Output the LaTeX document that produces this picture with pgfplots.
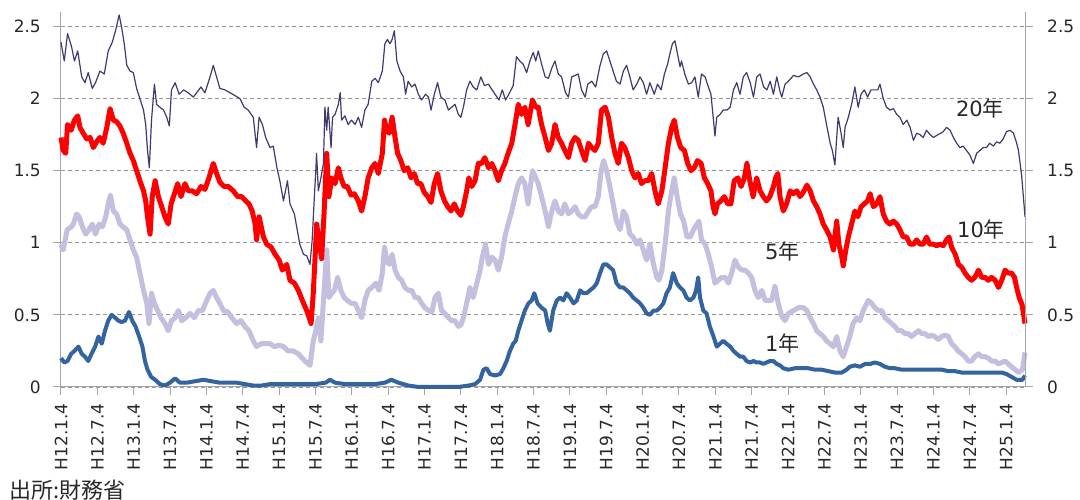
\documentclass[border=0pt]{standalone}
\usepackage{pgfplots}
\pgfplotsset{compat=1.18}
\usepackage{fontspec}
\setmainfont{DejaVu Sans}
\newfontfamily\cjk{Noto Sans CJK JP}
\definecolor{c20}{RGB}{64,58,112}
\definecolor{c10}{RGB}{255,0,0}
\definecolor{c5}{RGB}{198,190,222}
\definecolor{c1}{RGB}{52,100,160}
\definecolor{axgray}{RGB}{166,166,166}
\definecolor{gridgray}{RGB}{150,150,150}
\definecolor{txt}{RGB}{40,40,40}
\begin{document}
\begin{tikzpicture}[x=1pt,y=1pt]
\path[use as bounding box, fill=white] (0,0) rectangle (1080,500);
\pgfplotsset{
  common/.style={
    at={(61pt,113pt)}, anchor=south west, scale only axis,
    width=964pt, height=375pt,
    xmin=0, xmax=26.52, ymin=0, ymax=2.6,
    ytick={0,0.5,1,1.5,2,2.5},
    yticklabels={0,0.5,1,1.5,2,2.5},
    axis line style={-, draw=axgray, line width=1pt},
    tick align=outside, major tick length=8pt,
    tick style={draw=axgray, line width=1pt},
    ticklabel style={font=\fontsize{17}{17}\selectfont, text=txt},
  }
}
\begin{axis}[common,
  axis x line*=bottom, axis y line*=left,
  ymajorgrids, grid style={dashed, gridgray, line width=0.8pt, dash pattern=on 4pt off 3pt},
  xtick={0,1,...,26},
  xticklabels={H12.1.4,H12.7.4,H13.1.4,H13.7.4,H14.1.4,H14.7.4,H15.1.4,H15.7.4,H16.1.4,H16.7.4,H17.1.4,H17.7.4,H18.1.4,H18.7.4,H19.1.4,H19.7.4,H20.1.4,H20.7.4,H21.1.4,H21.7.4,H22.1.4,H22.7.4,H23.1.4,H23.7.4,H24.1.4,H24.7.4,H25.1.4},
  xticklabel style={rotate=90, anchor=east, inner sep=0pt},
  yticklabel style={anchor=east, inner sep=0pt},
  xticklabel shift=8pt, yticklabel shift=12pt,
  clip=false,
]
% 1 year
\addplot[c1, line width=4pt, line join=round] coordinates {
(0,0.20)(0.09,0.17)(0.18,0.18)(0.28,0.23)(0.37,0.25)(0.48,0.28)(0.57,0.23)(0.66,0.21)(0.75,0.18)(0.84,0.23)(0.94,0.28)(1.03,0.35)(1.12,0.30)(1.21,0.39)(1.30,0.46)(1.39,0.50)(1.49,0.48)(1.58,0.46)(1.67,0.45)(1.76,0.46)(1.87,0.52)(1.96,0.46)(2.05,0.42)(2.15,0.35)(2.24,0.28)(2.31,0.18)(2.38,0.12)(2.48,0.07)(2.59,0.05)(2.72,0.02)(2.86,0.01)(3.00,0.03)(3.14,0.06)(3.27,0.03)(3.46,0.03)(3.69,0.04)(3.92,0.05)(4.14,0.04)(4.37,0.03)(4.60,0.03)(4.83,0.03)(5.06,0.02)(5.29,0.01)(5.52,0.01)(5.75,0.02)(5.98,0.02)(6.21,0.02)(6.44,0.02)(6.71,0.02)(7.00,0.02)(7.28,0.03)(7.40,0.05)(7.54,0.03)(7.81,0.02)(8.09,0.02)(8.36,0.02)(8.64,0.02)(8.91,0.03)(9.09,0.05)(9.28,0.03)(9.56,0.01)(9.83,0.00)(10.11,0.00)(10.38,0.00)(10.66,0.00)(10.93,0.00)(11.21,0.01)(11.39,0.02)(11.53,0.05)(11.62,0.12)(11.71,0.13)(11.80,0.09)(11.94,0.08)(12.08,0.09)(12.17,0.13)(12.26,0.18)(12.35,0.25)(12.44,0.30)(12.51,0.32)(12.58,0.39)(12.67,0.46)(12.76,0.53)(12.86,0.58)(12.95,0.60)(13.02,0.65)(13.11,0.58)(13.22,0.55)(13.32,0.53)(13.39,0.44)(13.45,0.39)(13.54,0.53)(13.64,0.60)(13.73,0.62)(13.82,0.60)(13.91,0.65)(14.00,0.62)(14.10,0.58)(14.19,0.60)(14.28,0.67)(14.37,0.65)(14.46,0.65)(14.55,0.67)(14.65,0.69)(14.74,0.72)(14.83,0.79)(14.92,0.85)(15.01,0.85)(15.10,0.83)(15.19,0.81)(15.28,0.72)(15.38,0.69)(15.47,0.69)(15.56,0.67)(15.65,0.65)(15.74,0.62)(15.84,0.60)(15.93,0.58)(16.02,0.55)(16.11,0.51)(16.20,0.50)(16.30,0.53)(16.39,0.53)(16.48,0.55)(16.57,0.58)(16.66,0.65)(16.75,0.69)(16.84,0.79)(16.94,0.72)(17.03,0.69)(17.12,0.67)(17.21,0.62)(17.30,0.60)(17.40,0.62)(17.47,0.67)(17.53,0.76)(17.58,0.62)(17.67,0.53)(17.76,0.51)(17.85,0.42)(17.95,0.35)(18.04,0.28)(18.13,0.30)(18.22,0.32)(18.31,0.30)(18.41,0.28)(18.50,0.25)(18.59,0.23)(18.68,0.21)(18.77,0.21)(18.86,0.18)(18.96,0.17)(19.05,0.18)(19.14,0.17)(19.23,0.17)(19.32,0.16)(19.41,0.17)(19.50,0.18)(19.60,0.18)(19.69,0.16)(19.78,0.15)(19.87,0.13)(20.01,0.12)(20.19,0.13)(20.38,0.13)(20.56,0.13)(20.74,0.12)(20.92,0.12)(21.11,0.11)(21.29,0.10)(21.48,0.10)(21.61,0.12)(21.70,0.14)(21.84,0.15)(21.98,0.14)(22.12,0.16)(22.26,0.16)(22.39,0.17)(22.53,0.16)(22.67,0.14)(22.81,0.13)(22.94,0.13)(23.13,0.12)(23.31,0.12)(23.49,0.12)(23.68,0.12)(23.86,0.12)(24.04,0.12)(24.23,0.12)(24.41,0.11)(24.59,0.11)(24.78,0.10)(24.96,0.10)(25.14,0.10)(25.33,0.10)(25.51,0.10)(25.70,0.10)(25.88,0.10)(26.01,0.09)(26.15,0.07)(26.29,0.05)(26.45,0.05)(26.52,0.08)
};
% 5 year
\addplot[c5, line width=5pt, line join=round] coordinates {
(0,0.99)(0.06,0.95)(0.17,1.09)(0.28,1.11)(0.34,1.13)(0.43,1.20)(0.50,1.18)(0.59,1.11)(0.68,1.06)(0.77,1.09)(0.86,1.13)(0.95,1.06)(1.05,1.13)(1.14,1.11)(1.23,1.18)(1.30,1.27)(1.36,1.33)(1.44,1.22)(1.53,1.20)(1.62,1.13)(1.71,1.11)(1.81,1.09)(1.90,1.02)(1.99,0.95)(2.08,0.90)(2.17,0.79)(2.27,0.67)(2.36,0.58)(2.42,0.44)(2.49,0.65)(2.57,0.58)(2.66,0.53)(2.75,0.48)(2.86,0.44)(2.95,0.39)(3.04,0.46)(3.14,0.48)(3.23,0.53)(3.32,0.46)(3.43,0.48)(3.55,0.51)(3.67,0.48)(3.78,0.53)(3.89,0.53)(4.01,0.60)(4.10,0.65)(4.19,0.67)(4.28,0.62)(4.37,0.58)(4.47,0.53)(4.59,0.52)(4.70,0.48)(4.83,0.44)(4.95,0.46)(5.06,0.42)(5.17,0.39)(5.29,0.32)(5.38,0.28)(5.50,0.30)(5.61,0.30)(5.75,0.30)(5.87,0.28)(6.00,0.29)(6.12,0.28)(6.25,0.25)(6.39,0.25)(6.53,0.23)(6.71,0.18)(6.85,0.15)(6.94,0.32)(7.01,0.39)(7.08,0.48)(7.15,0.32)(7.22,0.60)(7.31,0.95)(7.37,0.62)(7.45,0.65)(7.52,0.67)(7.61,0.76)(7.70,0.67)(7.79,0.62)(7.88,0.60)(7.98,0.58)(8.09,0.58)(8.18,0.53)(8.27,0.48)(8.36,0.60)(8.45,0.67)(8.55,0.69)(8.66,0.72)(8.75,0.67)(8.84,0.79)(8.90,0.97)(8.96,0.88)(9.03,0.85)(9.11,0.92)(9.19,0.81)(9.28,0.76)(9.37,0.74)(9.46,0.69)(9.56,0.67)(9.65,0.67)(9.74,0.62)(9.83,0.62)(9.92,0.58)(10.01,0.55)(10.11,0.53)(10.20,0.52)(10.29,0.62)(10.38,0.65)(10.47,0.53)(10.56,0.51)(10.66,0.48)(10.75,0.46)(10.84,0.46)(10.93,0.42)(11.00,0.43)(11.07,0.48)(11.16,0.58)(11.25,0.69)(11.34,0.62)(11.44,0.72)(11.53,0.81)(11.59,0.90)(11.68,0.99)(11.76,0.85)(11.85,0.90)(11.94,0.88)(12.03,0.81)(12.12,0.90)(12.21,1.04)(12.30,1.13)(12.40,1.22)(12.49,1.32)(12.58,1.41)(12.67,1.45)(12.76,1.41)(12.85,1.27)(12.97,1.50)(13.06,1.45)(13.13,1.41)(13.22,1.32)(13.32,1.22)(13.41,1.11)(13.50,1.22)(13.59,1.29)(13.68,1.22)(13.77,1.20)(13.86,1.27)(13.96,1.20)(14.05,1.22)(14.14,1.25)(14.23,1.20)(14.32,1.18)(14.42,1.18)(14.51,1.22)(14.60,1.25)(14.69,1.25)(14.78,1.32)(14.86,1.50)(14.93,1.57)(15.01,1.50)(15.10,1.39)(15.19,1.27)(15.28,1.15)(15.38,1.09)(15.47,1.22)(15.56,1.18)(15.65,1.06)(15.74,1.04)(15.84,0.99)(15.93,1.02)(16.02,0.95)(16.11,0.88)(16.20,0.99)(16.30,0.85)(16.39,0.76)(16.45,0.74)(16.53,0.81)(16.62,0.99)(16.71,1.22)(16.80,1.36)(16.87,1.45)(16.95,1.32)(17.04,1.20)(17.13,1.15)(17.22,1.04)(17.31,1.04)(17.40,1.09)(17.50,1.13)(17.55,1.15)(17.62,1.02)(17.72,0.99)(17.81,0.92)(17.90,0.83)(17.99,0.72)(18.08,0.74)(18.18,0.76)(18.27,0.76)(18.36,0.72)(18.45,0.79)(18.54,0.88)(18.64,0.83)(18.73,0.81)(18.82,0.81)(18.91,0.79)(19.00,0.76)(19.09,0.67)(19.18,0.62)(19.28,0.67)(19.37,0.60)(19.46,0.60)(19.55,0.60)(19.64,0.70)(19.73,0.58)(19.83,0.49)(19.92,0.46)(20.01,0.51)(20.15,0.53)(20.29,0.55)(20.42,0.55)(20.52,0.53)(20.61,0.48)(20.70,0.44)(20.79,0.39)(20.88,0.37)(20.97,0.35)(21.06,0.32)(21.16,0.30)(21.25,0.28)(21.34,0.35)(21.43,0.25)(21.52,0.21)(21.61,0.28)(21.70,0.35)(21.79,0.44)(21.89,0.48)(21.98,0.46)(22.07,0.53)(22.21,0.60)(22.30,0.58)(22.39,0.55)(22.49,0.53)(22.58,0.53)(22.67,0.48)(22.76,0.46)(22.85,0.44)(22.94,0.42)(23.03,0.39)(23.13,0.39)(23.22,0.37)(23.31,0.37)(23.40,0.35)(23.49,0.37)(23.59,0.39)(23.68,0.37)(23.77,0.37)(23.86,0.35)(23.95,0.36)(24.04,0.35)(24.13,0.33)(24.23,0.35)(24.32,0.36)(24.41,0.35)(24.50,0.30)(24.59,0.28)(24.68,0.25)(24.78,0.23)(24.87,0.21)(24.96,0.18)(25.05,0.18)(25.14,0.21)(25.24,0.23)(25.33,0.21)(25.42,0.21)(25.51,0.20)(25.60,0.18)(25.70,0.18)(25.79,0.16)(25.88,0.17)(25.97,0.18)(26.06,0.16)(26.15,0.14)(26.25,0.12)(26.34,0.10)(26.45,0.12)(26.52,0.24)
};
% 10 year
\addplot[c10, line width=5pt, line join=round] coordinates {
(0,1.73)(0.06,1.64)(0.13,1.62)(0.18,1.82)(0.28,1.78)(0.37,1.85)(0.46,1.88)(0.52,1.80)(0.61,1.76)(0.71,1.72)(0.80,1.73)(0.89,1.66)(0.98,1.70)(1.07,1.73)(1.16,1.69)(1.26,1.80)(1.35,1.93)(1.44,1.85)(1.53,1.84)(1.62,1.81)(1.71,1.76)(1.81,1.69)(1.90,1.62)(1.99,1.57)(2.08,1.50)(2.17,1.43)(2.27,1.36)(2.33,1.29)(2.38,1.18)(2.45,1.06)(2.51,1.32)(2.59,1.43)(2.68,1.32)(2.77,1.25)(2.86,1.18)(2.95,1.13)(3.03,1.27)(3.12,1.34)(3.21,1.41)(3.30,1.32)(3.41,1.41)(3.50,1.36)(3.61,1.36)(3.73,1.34)(3.85,1.39)(3.96,1.37)(4.07,1.45)(4.19,1.55)(4.28,1.48)(4.37,1.42)(4.49,1.39)(4.60,1.39)(4.74,1.36)(4.86,1.32)(4.97,1.32)(5.08,1.29)(5.17,1.27)(5.26,1.22)(5.34,1.13)(5.38,1.02)(5.45,1.18)(5.57,1.04)(5.66,0.99)(5.78,0.97)(5.89,0.92)(6.00,0.88)(6.09,0.81)(6.21,0.85)(6.30,0.74)(6.42,0.72)(6.53,0.67)(6.64,0.60)(6.76,0.53)(6.88,0.44)(6.94,0.65)(7.00,0.95)(7.03,1.13)(7.10,1.02)(7.17,0.89)(7.24,1.22)(7.31,1.62)(7.37,1.32)(7.45,1.45)(7.54,1.41)(7.63,1.52)(7.70,1.45)(7.79,1.39)(7.88,1.39)(7.98,1.33)(8.07,1.34)(8.18,1.29)(8.27,1.22)(8.36,1.32)(8.45,1.45)(8.55,1.52)(8.64,1.55)(8.73,1.48)(8.84,1.62)(8.90,1.85)(8.96,1.78)(9.03,1.76)(9.11,1.87)(9.19,1.73)(9.26,1.62)(9.35,1.57)(9.44,1.50)(9.54,1.52)(9.63,1.45)(9.72,1.48)(9.81,1.41)(9.90,1.41)(9.99,1.35)(10.09,1.32)(10.18,1.28)(10.27,1.41)(10.36,1.48)(10.45,1.36)(10.55,1.29)(10.64,1.25)(10.73,1.22)(10.82,1.27)(10.91,1.22)(11.00,1.19)(11.07,1.25)(11.16,1.36)(11.22,1.45)(11.30,1.39)(11.39,1.43)(11.48,1.55)(11.57,1.55)(11.66,1.59)(11.76,1.52)(11.85,1.55)(11.94,1.50)(12.03,1.43)(12.12,1.50)(12.21,1.55)(12.30,1.62)(12.40,1.69)(12.49,1.82)(12.58,1.96)(12.67,1.89)(12.76,1.94)(12.85,1.82)(12.97,1.99)(13.06,1.94)(13.13,1.94)(13.22,1.82)(13.32,1.73)(13.41,1.64)(13.50,1.69)(13.59,1.82)(13.68,1.73)(13.77,1.69)(13.86,1.64)(13.96,1.59)(14.05,1.69)(14.14,1.73)(14.23,1.71)(14.32,1.64)(14.42,1.57)(14.51,1.69)(14.60,1.66)(14.69,1.64)(14.78,1.69)(14.87,1.92)(14.97,1.94)(15.06,1.87)(15.15,1.73)(15.24,1.62)(15.33,1.55)(15.42,1.69)(15.51,1.66)(15.61,1.59)(15.70,1.50)(15.79,1.45)(15.88,1.48)(15.97,1.41)(16.06,1.43)(16.16,1.43)(16.25,1.48)(16.34,1.36)(16.43,1.27)(16.53,1.36)(16.62,1.52)(16.71,1.69)(16.80,1.80)(16.87,1.85)(16.96,1.73)(17.05,1.66)(17.15,1.64)(17.24,1.55)(17.33,1.50)(17.42,1.52)(17.51,1.57)(17.61,1.55)(17.70,1.45)(17.79,1.41)(17.88,1.36)(17.94,1.25)(17.99,1.20)(18.06,1.27)(18.15,1.29)(18.25,1.32)(18.34,1.27)(18.43,1.27)(18.52,1.43)(18.62,1.45)(18.71,1.39)(18.80,1.45)(18.87,1.55)(18.95,1.43)(19.04,1.32)(19.14,1.45)(19.23,1.36)(19.32,1.32)(19.41,1.29)(19.50,1.32)(19.60,1.39)(19.66,1.45)(19.72,1.48)(19.78,1.32)(19.87,1.22)(19.96,1.27)(20.06,1.36)(20.15,1.34)(20.24,1.36)(20.33,1.32)(20.42,1.35)(20.52,1.40)(20.61,1.36)(20.70,1.29)(20.79,1.25)(20.88,1.20)(20.97,1.13)(21.06,1.09)(21.16,1.04)(21.25,0.95)(21.34,1.15)(21.40,0.99)(21.48,0.90)(21.52,0.84)(21.59,0.95)(21.66,1.04)(21.75,1.13)(21.84,1.22)(21.92,1.18)(22.01,1.25)(22.10,1.27)(22.19,1.29)(22.26,1.34)(22.35,1.25)(22.44,1.27)(22.53,1.32)(22.62,1.20)(22.71,1.15)(22.80,1.13)(22.90,1.15)(22.99,1.13)(23.08,1.09)(23.17,1.04)(23.26,1.04)(23.36,0.99)(23.45,0.99)(23.54,1.02)(23.63,0.99)(23.72,0.99)(23.81,1.04)(23.90,0.99)(24.00,0.99)(24.09,0.98)(24.18,0.99)(24.27,0.98)(24.36,1.02)(24.43,1.04)(24.50,0.97)(24.60,0.92)(24.69,0.85)(24.78,0.83)(24.87,0.79)(24.96,0.76)(25.05,0.74)(25.14,0.76)(25.24,0.81)(25.33,0.76)(25.42,0.76)(25.51,0.74)(25.60,0.76)(25.70,0.74)(25.79,0.69)(25.88,0.74)(25.97,0.81)(26.06,0.79)(26.15,0.79)(26.23,0.76)(26.29,0.69)(26.36,0.62)(26.44,0.57)(26.52,0.44)
};
% 20 year
\addplot[c20, line width=1.2pt, line join=round] coordinates {
(0,2.39)(0.09,2.26)(0.18,2.45)(0.29,2.36)(0.37,2.26)(0.46,2.33)(0.57,2.15)(0.66,2.11)(0.75,2.18)(0.86,2.07)(0.95,2.11)(1.07,2.19)(1.19,2.17)(1.30,2.33)(1.41,2.39)(1.50,2.47)(1.60,2.58)(1.67,2.49)(1.74,2.38)(1.81,2.23)(1.90,2.19)(1.99,2.18)(2.08,2.07)(2.17,2.00)(2.27,1.92)(2.33,1.82)(2.38,1.64)(2.43,1.52)(2.49,1.85)(2.57,2.10)(2.63,1.96)(2.72,1.94)(2.82,1.92)(2.91,1.87)(2.98,1.81)(3.04,2.06)(3.14,2.11)(3.25,2.03)(3.37,2.06)(3.50,2.04)(3.64,2.01)(3.73,2.04)(3.85,2.08)(3.96,2.04)(4.10,2.15)(4.19,2.23)(4.28,2.15)(4.37,2.07)(4.51,2.06)(4.65,2.04)(4.79,2.02)(4.92,2.00)(5.04,1.94)(5.15,1.92)(5.29,1.87)(5.38,1.66)(5.45,1.87)(5.54,1.82)(5.63,1.73)(5.75,1.66)(5.84,1.67)(5.94,1.52)(6.02,1.43)(6.12,1.29)(6.23,1.43)(6.30,1.27)(6.42,1.20)(6.57,0.99)(6.67,0.92)(6.76,0.91)(6.85,0.85)(6.91,1.02)(6.97,1.32)(7.01,1.50)(7.03,1.62)(7.08,1.36)(7.15,1.45)(7.22,1.55)(7.26,1.94)(7.31,1.78)(7.35,1.94)(7.43,1.66)(7.47,1.87)(7.54,1.89)(7.63,1.96)(7.68,2.04)(7.72,1.85)(7.81,1.88)(7.90,1.82)(7.99,1.85)(8.09,1.82)(8.18,1.87)(8.27,1.80)(8.36,1.92)(8.45,1.96)(8.55,2.12)(8.64,2.14)(8.73,2.11)(8.84,2.19)(8.91,2.38)(8.98,2.41)(9.05,2.38)(9.11,2.41)(9.17,2.47)(9.24,2.26)(9.33,2.19)(9.42,2.15)(9.48,2.03)(9.55,2.12)(9.65,2.08)(9.74,2.10)(9.83,2.03)(9.92,1.99)(10.03,2.03)(10.11,2.01)(10.18,1.92)(10.27,2.03)(10.36,2.11)(10.45,2.01)(10.56,1.99)(10.66,1.92)(10.75,1.94)(10.84,1.96)(10.93,1.89)(11.00,1.87)(11.07,1.94)(11.16,2.06)(11.25,2.12)(11.34,2.08)(11.44,2.06)(11.55,2.15)(11.65,2.09)(11.76,2.10)(11.86,2.06)(11.94,2.03)(12.05,1.99)(12.14,2.06)(12.23,1.99)(12.32,2.03)(12.44,2.09)(12.53,2.29)(12.62,2.26)(12.71,2.24)(12.81,2.18)(12.90,2.26)(12.99,2.32)(13.06,2.26)(13.13,2.33)(13.22,2.24)(13.32,2.15)(13.41,2.14)(13.50,2.21)(13.59,2.26)(13.68,2.17)(13.77,2.15)(13.88,2.04)(13.96,2.01)(14.05,2.15)(14.14,2.16)(14.23,2.17)(14.32,2.06)(14.42,2.01)(14.49,2.10)(14.60,2.12)(14.71,2.08)(14.82,2.22)(14.92,2.31)(15.01,2.33)(15.10,2.26)(15.19,2.19)(15.28,2.12)(15.38,2.10)(15.47,2.19)(15.56,2.23)(15.65,2.15)(15.74,2.06)(15.84,2.10)(15.93,2.15)(16.02,2.11)(16.11,2.03)(16.20,2.11)(16.32,2.03)(16.41,2.10)(16.51,2.06)(16.60,2.17)(16.69,2.24)(16.75,2.31)(16.82,2.38)(16.89,2.40)(16.96,2.31)(17.03,2.22)(17.07,2.26)(17.16,2.17)(17.26,2.10)(17.35,2.11)(17.44,2.15)(17.53,2.01)(17.62,2.17)(17.72,2.15)(17.81,2.08)(17.88,2.03)(17.95,1.85)(17.99,1.74)(18.04,1.87)(18.13,1.89)(18.22,1.92)(18.32,1.92)(18.41,1.94)(18.50,2.06)(18.59,2.11)(18.68,2.03)(18.77,2.15)(18.86,2.18)(18.96,2.11)(19.05,2.01)(19.14,2.15)(19.23,2.17)(19.33,2.08)(19.42,2.06)(19.51,2.12)(19.60,2.03)(19.69,2.15)(19.78,2.05)(19.83,2.01)(19.92,2.10)(20.01,2.12)(20.15,2.16)(20.29,2.15)(20.42,2.17)(20.52,2.18)(20.61,2.15)(20.70,2.10)(20.79,2.06)(20.88,2.01)(20.97,1.94)(21.06,1.82)(21.16,1.69)(21.22,1.64)(21.29,1.54)(21.34,1.73)(21.38,1.87)(21.46,1.76)(21.52,1.66)(21.57,1.80)(21.66,1.87)(21.75,1.96)(21.84,2.08)(21.93,1.94)(22.01,2.03)(22.10,2.06)(22.19,2.01)(22.28,2.06)(22.37,2.06)(22.47,2.06)(22.53,2.10)(22.62,2.00)(22.71,1.94)(22.81,1.92)(22.90,1.93)(22.99,1.89)(23.08,1.87)(23.17,1.82)(23.27,1.85)(23.36,1.80)(23.45,1.71)(23.54,1.76)(23.63,1.75)(23.72,1.73)(23.81,1.78)(23.91,1.75)(24.00,1.73)(24.13,1.75)(24.27,1.77)(24.36,1.80)(24.46,1.78)(24.55,1.73)(24.64,1.69)(24.73,1.66)(24.82,1.67)(24.91,1.64)(25.00,1.61)(25.10,1.55)(25.19,1.62)(25.28,1.64)(25.37,1.66)(25.46,1.66)(25.55,1.69)(25.65,1.67)(25.74,1.70)(25.83,1.69)(25.92,1.72)(26.01,1.77)(26.11,1.78)(26.20,1.76)(26.28,1.70)(26.34,1.64)(26.43,1.46)(26.52,1.18)
};
\node[font=\fontsize{21}{21}\selectfont, text=txt] at (axis cs:25.28,1.93) {20{\cjk 年}};
\node[font=\fontsize{21}{21}\selectfont, text=txt] at (axis cs:25.31,1.09) {10{\cjk 年}};
\node[font=\fontsize{21}{21}\selectfont, text=txt] at (axis cs:19.84,0.94) {5{\cjk 年}};
\node[font=\fontsize{21}{21}\selectfont, text=txt] at (axis cs:19.84,0.30) {1{\cjk 年}};
\end{axis}
\begin{axis}[common,
  axis x line=none, axis y line*=right,
  yticklabel style={anchor=west, inner sep=0pt},
  yticklabel shift=14pt,
]
\end{axis}
\node[anchor=base west, inner sep=0pt, font=\cjk\fontsize{22}{22}\selectfont, text=txt] at (9,1) {出所:財務省};
\end{tikzpicture}
\end{document}
